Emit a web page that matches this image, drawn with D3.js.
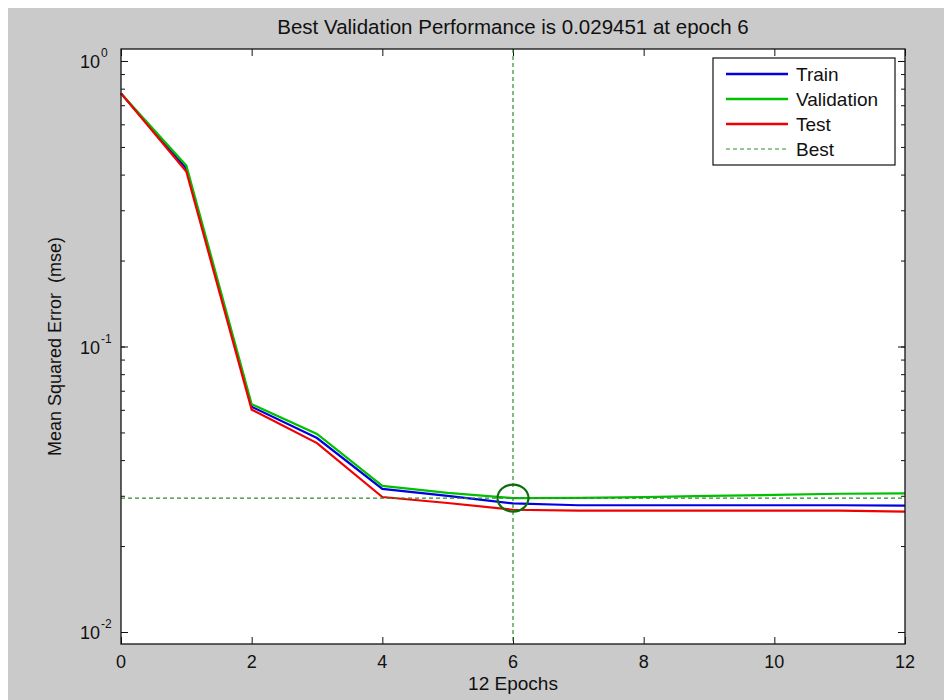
<!DOCTYPE html>
<html>
<head>
<meta charset="utf-8">
<script src="https://cdn.jsdelivr.net/npm/d3@7"></script>
<style>
  body { margin: 0; background: #fff; }
  svg { display: block; font-family: "Liberation Sans", Arial, sans-serif; }
</style>
</head>
<body>
<div class="chart"></div>
<script>
// mse per epoch
const epochs = [0, 1, 2, 3, 4, 5, 6, 7, 8, 9, 10, 11, 12]
const trainPerf = [0.77, 0.42, 0.0615, 0.0478, 0.0317, 0.0300, 0.0282, 0.0278, 0.0278, 0.0278, 0.0278, 0.0278, 0.0277]
const valPerf = [0.77, 0.43, 0.0628, 0.0494, 0.0325, 0.0307, 0.029451, 0.0295, 0.0297, 0.0300, 0.0302, 0.0305, 0.0306]
const testPerf = [0.77, 0.41, 0.0601, 0.0459, 0.0297, 0.0283, 0.0268, 0.0266, 0.0266, 0.0266, 0.0266, 0.0266, 0.0264]
const bestEpoch = 6
const bestPerf = 0.029451

const xTickValues = [0, 2, 4, 6, 8, 10, 12]
const yTickExponents = [-2, -1, 0]
const seriesNames = ['Train', 'Validation', 'Test', 'Best']

const W = 944, H = 700
// plot box edges
const pLeft = 121, pRight = 905, pTop = 49, pBottom = 644

const svg = d3.select('.chart')
    .append('svg')
    .attr('width', W)
    .attr('height', H)

// grey figure background
svg.append('rect')
    .attr('x', 8).attr('y', 8)
    .attr('width', W - 8).attr('height', H - 8)
    .attr('fill', '#cacaca')

svg.append('rect')
    .attr('x', pLeft).attr('y', pTop)
    .attr('width', pRight - pLeft).attr('height', pBottom - pTop)
    .attr('fill', '#fff')

const x = d3.scaleLinear()
    .domain([0, 12])
    .range([pLeft, pRight])

const y = d3.scaleLog()
    .domain([Math.pow(10, -2.042), Math.pow(10, 0.042)])
    .range([pBottom, pTop])

// log minor ticks inside the domain
const [y0, y1] = y.domain()
const minorTicks = y.ticks().filter(v => v >= y0 && v <= y1)
const majorTicks = yTickExponents.map(e => Math.pow(10, e))

// ticks point inwards on all four sides
const tickStyle = g => {
    g.select('.domain').remove()
    g.selectAll('.tick line').attr('stroke', '#111')
}

svg.append('g')
    .attr('transform', `translate(0,${pBottom})`)
    .call(d3.axisBottom(x).tickValues(xTickValues).tickSize(-7).tickFormat(''))
    .call(tickStyle)
svg.append('g')
    .attr('transform', `translate(0,${pTop})`)
    .call(d3.axisTop(x).tickValues(xTickValues).tickSize(-7).tickFormat(''))
    .call(tickStyle)
svg.append('g')
    .attr('transform', `translate(${pLeft},0)`)
    .call(d3.axisLeft(y).tickValues(minorTicks).tickSize(-4).tickFormat(''))
    .call(tickStyle)
svg.append('g')
    .attr('transform', `translate(${pRight},0)`)
    .call(d3.axisRight(y).tickValues(minorTicks).tickSize(-4).tickFormat(''))
    .call(tickStyle)
svg.append('g')
    .attr('transform', `translate(${pLeft},0)`)
    .call(d3.axisLeft(y).tickValues(majorTicks).tickSize(-7).tickFormat(''))
    .call(tickStyle)
svg.append('g')
    .attr('transform', `translate(${pRight},0)`)
    .call(d3.axisRight(y).tickValues(majorTicks).tickSize(-7).tickFormat(''))
    .call(tickStyle)

// tick labels
svg.append('g')
    .selectAll('text')
    .data(xTickValues)
    .enter()
    .append('text')
    .attr('x', d => x(d))
    .attr('y', pBottom + 24)
    .attr('text-anchor', 'middle')
    .attr('font-size', '18px')
    .attr('fill', '#111')
    .text(d => d)

const yLabels = svg.append('g')
    .selectAll('g')
    .data(yTickExponents)
    .enter()
    .append('g')
    .attr('transform', e => `translate(100,${y(Math.pow(10, e))})`)
yLabels.append('text')
    .attr('y', 7)
    .attr('text-anchor', 'end')
    .attr('font-size', '18px')
    .attr('fill', '#111')
    .text('10')
yLabels.append('text')
    .attr('x', 1)
    .attr('y', -4)
    .attr('font-size', '12px')
    .attr('fill', '#111')
    .text(e => e)

// curves
const line = d3.line()
    .x((d, i) => x(epochs[i]))
    .y(d => y(d))

const series = [
    { name: seriesNames[0], values: trainPerf, color: '#0000e0' },
    { name: seriesNames[1], values: valPerf, color: '#00c000' },
    { name: seriesNames[2], values: testPerf, color: '#f00000' }
]

svg.append('g')
    .selectAll('path')
    .data(series)
    .enter()
    .append('path')
    .attr('d', d => line(d.values))
    .attr('fill', 'none')
    .attr('stroke', d => d.color)
    .attr('stroke-width', 2.2)

// best epoch marker
const bestColor = '#2e8b2e'
svg.append('line')
    .attr('x1', x(bestEpoch)).attr('x2', x(bestEpoch))
    .attr('y1', pTop).attr('y2', pBottom)
    .attr('stroke', bestColor)
    .attr('stroke-width', 1.2)
    .attr('stroke-dasharray', '4,3')
svg.append('line')
    .attr('x1', pLeft).attr('x2', pRight)
    .attr('y1', y(bestPerf)).attr('y2', y(bestPerf))
    .attr('stroke', bestColor)
    .attr('stroke-width', 1.2)
    .attr('stroke-dasharray', '4,3')
svg.append('ellipse')
    .attr('cx', x(bestEpoch))
    .attr('cy', y(bestPerf))
    .attr('rx', 15.5)
    .attr('ry', 13.5)
    .attr('fill', 'none')
    .attr('stroke', '#0a6e0a')
    .attr('stroke-width', 2.2)

// axes box
svg.append('rect')
    .attr('x', pLeft).attr('y', pTop)
    .attr('width', pRight - pLeft).attr('height', pBottom - pTop)
    .attr('fill', 'none')
    .attr('stroke', '#111')
    .attr('stroke-width', 1.3)

// titles
svg.append('text')
    .attr('x', (pLeft + pRight) / 2)
    .attr('y', 34)
    .attr('text-anchor', 'middle')
    .attr('font-size', '20.5px')
    .attr('fill', '#111')
    .text(`Best Validation Performance is ${bestPerf} at epoch ${bestEpoch}`)

svg.append('text')
    .attr('x', (pLeft + pRight) / 2)
    .attr('y', 690)
    .attr('text-anchor', 'middle')
    .attr('font-size', '19px')
    .attr('fill', '#111')
    .text(`${epochs.length - 1} Epochs`)

svg.append('text')
    .attr('transform', `translate(61,${(pTop + pBottom) / 2}) rotate(-90)`)
    .attr('text-anchor', 'middle')
    .attr('font-size', '18px')
    .attr('fill', '#111')
    .style('white-space', 'pre')
    .text('Mean Squared Error  (mse)')

// legend
const legend = svg.append('g')
    .attr('transform', 'translate(713,58)')
legend.append('rect')
    .attr('width', 182)
    .attr('height', 107)
    .attr('fill', '#fff')
    .attr('stroke', '#111')
    .attr('stroke-width', 1.2)

const legendItems = legend.selectAll('g.item')
    .data(series.concat([{ name: seriesNames[3], color: bestColor, dash: '4,3' }]))
    .enter()
    .append('g')
    .attr('class', 'item')
    .attr('transform', (d, i) => `translate(0,${16 + i * 25})`)
legendItems.append('line')
    .attr('x1', 13).attr('x2', 75)
    .attr('stroke', d => d.color)
    .attr('stroke-width', d => d.dash ? 1.2 : 2.5)
    .attr('stroke-dasharray', d => d.dash || null)
legendItems.append('text')
    .attr('x', 83)
    .attr('y', 7)
    .attr('font-size', '19px')
    .attr('fill', '#111')
    .text(d => d.name)
</script>
</body>
</html>
